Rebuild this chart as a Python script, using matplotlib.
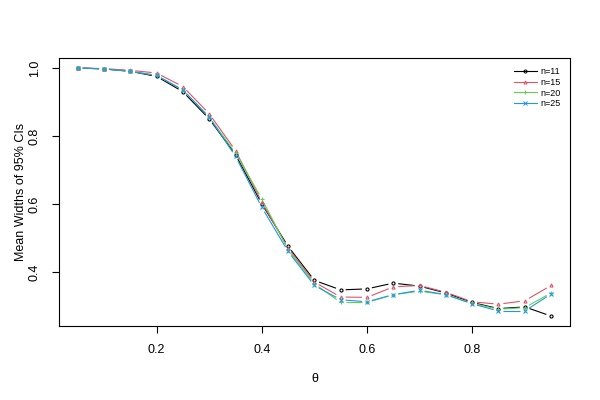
import numpy as np
import matplotlib
matplotlib.use("Agg")
import matplotlib.pyplot as plt

plt.rcParams['font.family'] = ['Liberation Sans', 'DejaVu Sans']

# data
theta = [0.05, 0.10, 0.15, 0.20, 0.25, 0.30, 0.35, 0.40, 0.45, 0.50,
         0.55, 0.60, 0.65, 0.70, 0.75, 0.80, 0.85, 0.90, 0.95]
w11 = [1.000, 0.997, 0.990, 0.975, 0.930, 0.850, 0.745, 0.600, 0.475, 0.375,
       0.347, 0.350, 0.367, 0.358, 0.338, 0.310, 0.292, 0.297, 0.270]
w15 = [1.000, 0.998, 0.993, 0.985, 0.945, 0.865, 0.757, 0.605, 0.470, 0.370,
       0.326, 0.325, 0.356, 0.360, 0.340, 0.312, 0.305, 0.315, 0.360]
w20 = [1.000, 0.997, 0.990, 0.978, 0.935, 0.855, 0.750, 0.615, 0.465, 0.365,
       0.310, 0.310, 0.333, 0.343, 0.333, 0.308, 0.290, 0.295, 0.338]
w25 = [1.000, 0.997, 0.990, 0.978, 0.935, 0.855, 0.740, 0.590, 0.460, 0.360,
       0.318, 0.312, 0.333, 0.346, 0.333, 0.306, 0.285, 0.285, 0.335]
labels = ["n=11", "n=15", "n=20", "n=25"]

series = [w11, w15, w20, w25]
colors = ["black", "#DF536B", "#61D04F", "#2297E6"]
markers = ["o", "^", "+", "x"]

fig = plt.figure(figsize=(6, 4), dpi=100)
ax = fig.add_axes([0.098, 0.185, 0.852, 0.67])

x0, x1 = min(theta), max(theta)
allv = np.concatenate([np.array(s) for s in series])
y0, y1 = allv.min(), allv.max()
ax.set_xlim(x0 - 0.04 * (x1 - x0), x1 + 0.04 * (x1 - x0))
ax.set_ylim(y0 - 0.04 * (y1 - y0), y1 + 0.04 * (y1 - y0))

fig.canvas.draw()
trans = ax.transData
inv = trans.inverted()
gap = 5.0  # pixels of gap at each end (type="b")

for s, c, m in zip(series, colors, markers):
    pts = trans.transform(np.column_stack([theta, s]))
    for i in range(len(pts) - 1):
        p, q = pts[i], pts[i + 1]
        d = q - p
        L = np.hypot(*d)
        if L <= 2 * gap:
            continue
        u = d / L
        a = inv.transform(p + u * gap)
        b = inv.transform(q - u * gap)
        ax.plot([a[0], b[0]], [a[1], b[1]], color=c, lw=0.8,
                solid_capstyle='butt')
    ms = 2.2 if m in ("o", "^") else 3.2
    ax.plot(theta, s, linestyle='none', marker=m, color=c, ms=ms,
            mfc='none', mew=0.8)

ax.set_xticks([0.2, 0.4, 0.6, 0.8])
ax.set_yticks([0.4, 0.6, 0.8, 1.0])
ax.set_xticklabels(["0.2", "0.4", "0.6", "0.8"])
ax.set_yticklabels(["0.4", "0.6", "0.8", "1.0"], rotation=90, va='center')
ax.tick_params(direction='out', length=5, width=0.8, labelsize=9, pad=8)
for sp in ax.spines.values():
    sp.set_linewidth(0.8)

ax.set_xlabel("θ", fontsize=9, labelpad=12)
ax.set_ylabel("Mean Widths of 95% CIs", fontsize=9, labelpad=1)

# legend
handles = []
for c, m, lab in zip(colors, markers, labels):
    ms = 2.2 if m in ("o", "^") else 3.2
    h, = ax.plot([], [], color=c, marker=m, ms=ms, mfc='none', mew=0.7,
                 lw=0.8, label=lab)
    handles.append(h)
ax.legend(handles=handles, loc='upper right', frameon=False, fontsize=6.5,
          handlelength=2.6, handletextpad=0.4, labelspacing=0.2,
          borderaxespad=0.6)

fig.savefig("out.png", dpi=100)
